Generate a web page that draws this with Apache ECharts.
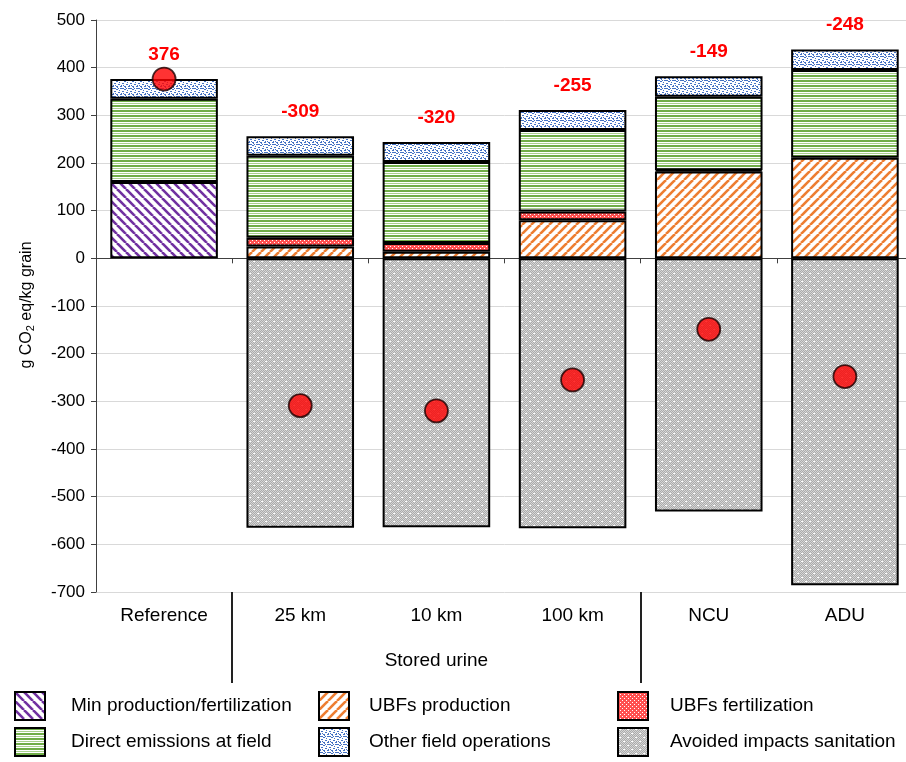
<!DOCTYPE html>
<html>
<head>
<meta charset="utf-8">
<script src="https://cdn.jsdelivr.net/npm/echarts@6/dist/echarts.min.js"></script>
<style>
html,body{margin:0;padding:0;background:#fff;overflow:hidden;width:906px;height:762px;}
#chart{width:913px;height:762px;}
</style>
</head>
<body>
<div id="chart"></div>
<script>
// ---- data ----
const categories = ['Reference', '25 km', '10 km', '100 km', 'NCU', 'ADU'];
const groupLabels = ['', '', 'Stored urine', '', '', ''];
const minProd  = [160, null, null, null, null, null];
const ubfProd  = [null, 25, 14, 80, 182, 211];
const ubfFert  = [null, 18, 18, 18, 3, null];
const directEm = [175, 172, 170, 171, 154, 184];
const otherOps = [41, 41, 42, 42, 43, 43];
const avoided  = [null, -565, -564, -566, -531, -686];
const netTotal = [376, -309, -320, -255, -149, -248];
const yTicks = {min: -700, max: 500, interval: 100};

// ---- fill patterns ----
function pat(w, h, draw) {
  const c = document.createElement('canvas');
  c.width = w; c.height = h;
  const ctx = c.getContext('2d');
  draw(ctx, w, h);
  return {image: c, repeat: 'repeat'};
}
function diag(color, dir) {
  return pat(9, 9, (ctx, w, h) => {
    ctx.fillStyle = '#fff'; ctx.fillRect(0, 0, w, h);
    ctx.strokeStyle = color; ctx.lineWidth = 2.6;
    for (let k = -1; k <= 1; k++) {
      ctx.beginPath();
      if (dir > 0) { ctx.moveTo(k * w, h); ctx.lineTo(k * w + w, 0); }
      else { ctx.moveTo(k * w, 0); ctx.lineTo(k * w + w, h); }
      ctx.stroke();
    }
  });
}
const purplePat = diag('#7030A0', -1);
const orangePat = diag('#ED7D31', 1);
const greenPat = pat(4, 5, (ctx) => {
  ctx.fillStyle = '#fff'; ctx.fillRect(0, 0, 4, 5);
  ctx.fillStyle = '#70AD47'; ctx.fillRect(0, 0, 4, 2);
  ctx.fillStyle = '#A9D18E'; ctx.fillRect(0, 3, 4, 1);
});
const redPat = pat(4, 4, (ctx) => {
  ctx.fillStyle = '#FF5050'; ctx.fillRect(0, 0, 4, 4);
  ctx.fillStyle = '#fff';
  ctx.fillRect(0, 0, 1, 1); ctx.fillRect(2, 2, 1, 1);
});
const bluePat = pat(8, 8, (ctx) => {
  ctx.fillStyle = '#fff'; ctx.fillRect(0, 0, 8, 8);
  ctx.fillStyle = '#4472C4';
  [[0,0],[4,1],[2,3],[6,4],[0,6],[4,6],[7,2],[2,0]].forEach(p => ctx.fillRect(p[0], p[1], 2, 1));
  [[1,5],[5,7],[6,0],[3,5]].forEach(p => ctx.fillRect(p[0], p[1], 1, 1));
});
const grayPat = pat(8, 8, (ctx) => {
  for (let x = 0; x < 8; x++) for (let y = 0; y < 8; y++) {
    ctx.fillStyle = ((x + y) % 2) ? '#ABABAB' : '#D6D6D6';
    ctx.fillRect(x, y, 1, 1);
  }
  ctx.fillStyle = '#fff';
  ctx.fillRect(1, 1, 2, 1); ctx.fillRect(5, 5, 2, 1);
});

const FONT = 'Liberation Sans, Arial, sans-serif';
const chart = echarts.init(document.getElementById('chart'));

function barSeries(name, data, fill, extra) {
  return Object.assign({
    name: name, type: 'bar', stack: 'total', data: data,
    barWidth: '79%',
    itemStyle: {color: fill, borderColor: '#000', borderWidth: 2},
    emphasis: {disabled: true}
  }, extra || {});
}

function legendAt(left, textGap, names) {
  return {
    left: left, top: 691, height: 70, orient: 'vertical', icon: 'rect', padding: 0,
    itemWidth: 30, itemHeight: 28, itemGap: 6,
    textStyle: {fontSize: 19, color: '#000', fontFamily: FONT, padding: [0, 0, 0, textGap - 5]},
    selectedMode: false,
    data: names
  };
}

chart.setOption({
  animation: false,
  backgroundColor: '#fff',
  grid: {left: 96, top: 20, bottom: 170, right: 0, containLabel: false},
  legend: [
    legendAt(14, 26, ['Min production/fertilization', 'Direct emissions at field']),
    legendAt(318, 20, ['UBFs production', 'Other field operations']),
    legendAt(617, 22, ['UBFs fertilization', 'Avoided impacts sanitation'])
  ],
  xAxis: [
    {
      type: 'category', data: categories, position: 'bottom',
      axisLine: {onZero: true, lineStyle: {color: '#404040', width: 1}},
      axisTick: {show: true, length: 5, lineStyle: {color: '#404040'}},
      axisLabel: {show: false}, splitLine: {show: false}
    },
    {
      type: 'category', data: categories, position: 'bottom',
      axisLine: {show: false, onZero: false}, axisTick: {show: false},
      axisLabel: {show: true, margin: 14, fontSize: 19, color: '#000', fontFamily: FONT},
      splitLine: {show: false}
    },
    {
      type: 'category', data: groupLabels, position: 'bottom',
      axisLine: {show: false, onZero: false},
      axisTick: {show: true, length: 91, interval: function (i) { return i === 1 || i === 4; },
                 lineStyle: {color: '#222', width: 2}},
      axisLabel: {show: true, margin: 59, fontSize: 19, color: '#000', fontFamily: FONT, interval: 0},
      splitLine: {show: false}
    }
  ],
  yAxis: {
    type: 'value', min: yTicks.min, max: yTicks.max, interval: yTicks.interval,
    axisLine: {show: true, lineStyle: {color: '#404040', width: 1}},
    axisTick: {show: true, length: 5, lineStyle: {color: '#404040'}},
    axisLabel: {fontSize: 17, color: '#000', fontFamily: FONT, margin: 11},
    splitLine: {show: true, lineStyle: {color: '#D9D9D9', width: 1}}
  },
  graphic: [{
    type: 'text', x: 27, y: 305, rotation: Math.PI / 2,
    style: {
      text: 'g CO{sub|2} eq/kg grain',
      font: '16px ' + FONT, fill: '#000',
      align: 'center', verticalAlign: 'middle',
      rich: {sub: {fontSize: 11, fontFamily: FONT, fill: '#000', verticalAlign: 'bottom', padding: [8, 0, 0, 0]}}
    }
  }],
  series: [
    barSeries('Min production/fertilization', minProd, purplePat),
    barSeries('UBFs production', ubfProd, orangePat),
    barSeries('UBFs fertilization', ubfFert, redPat),
    barSeries('Direct emissions at field', directEm, greenPat),
    barSeries('Other field operations', otherOps, bluePat, {
      label: {
        show: true, position: 'top', distance: 15,
        formatter: function (p) { return String(netTotal[p.dataIndex]); },
        color: '#FF0000', fontWeight: 'bold', fontSize: 19, fontFamily: FONT
      }
    }),
    barSeries('Avoided impacts sanitation', avoided, grayPat),
    {
      name: 'Net', type: 'scatter', data: netTotal, symbol: 'circle', symbolSize: 23, z: 10,
      itemStyle: {color: '#FF0000', borderColor: '#1a0000', borderWidth: 1.8},
      emphasis: {disabled: true}
    }
  ]
});
</script>
</body>
</html>
